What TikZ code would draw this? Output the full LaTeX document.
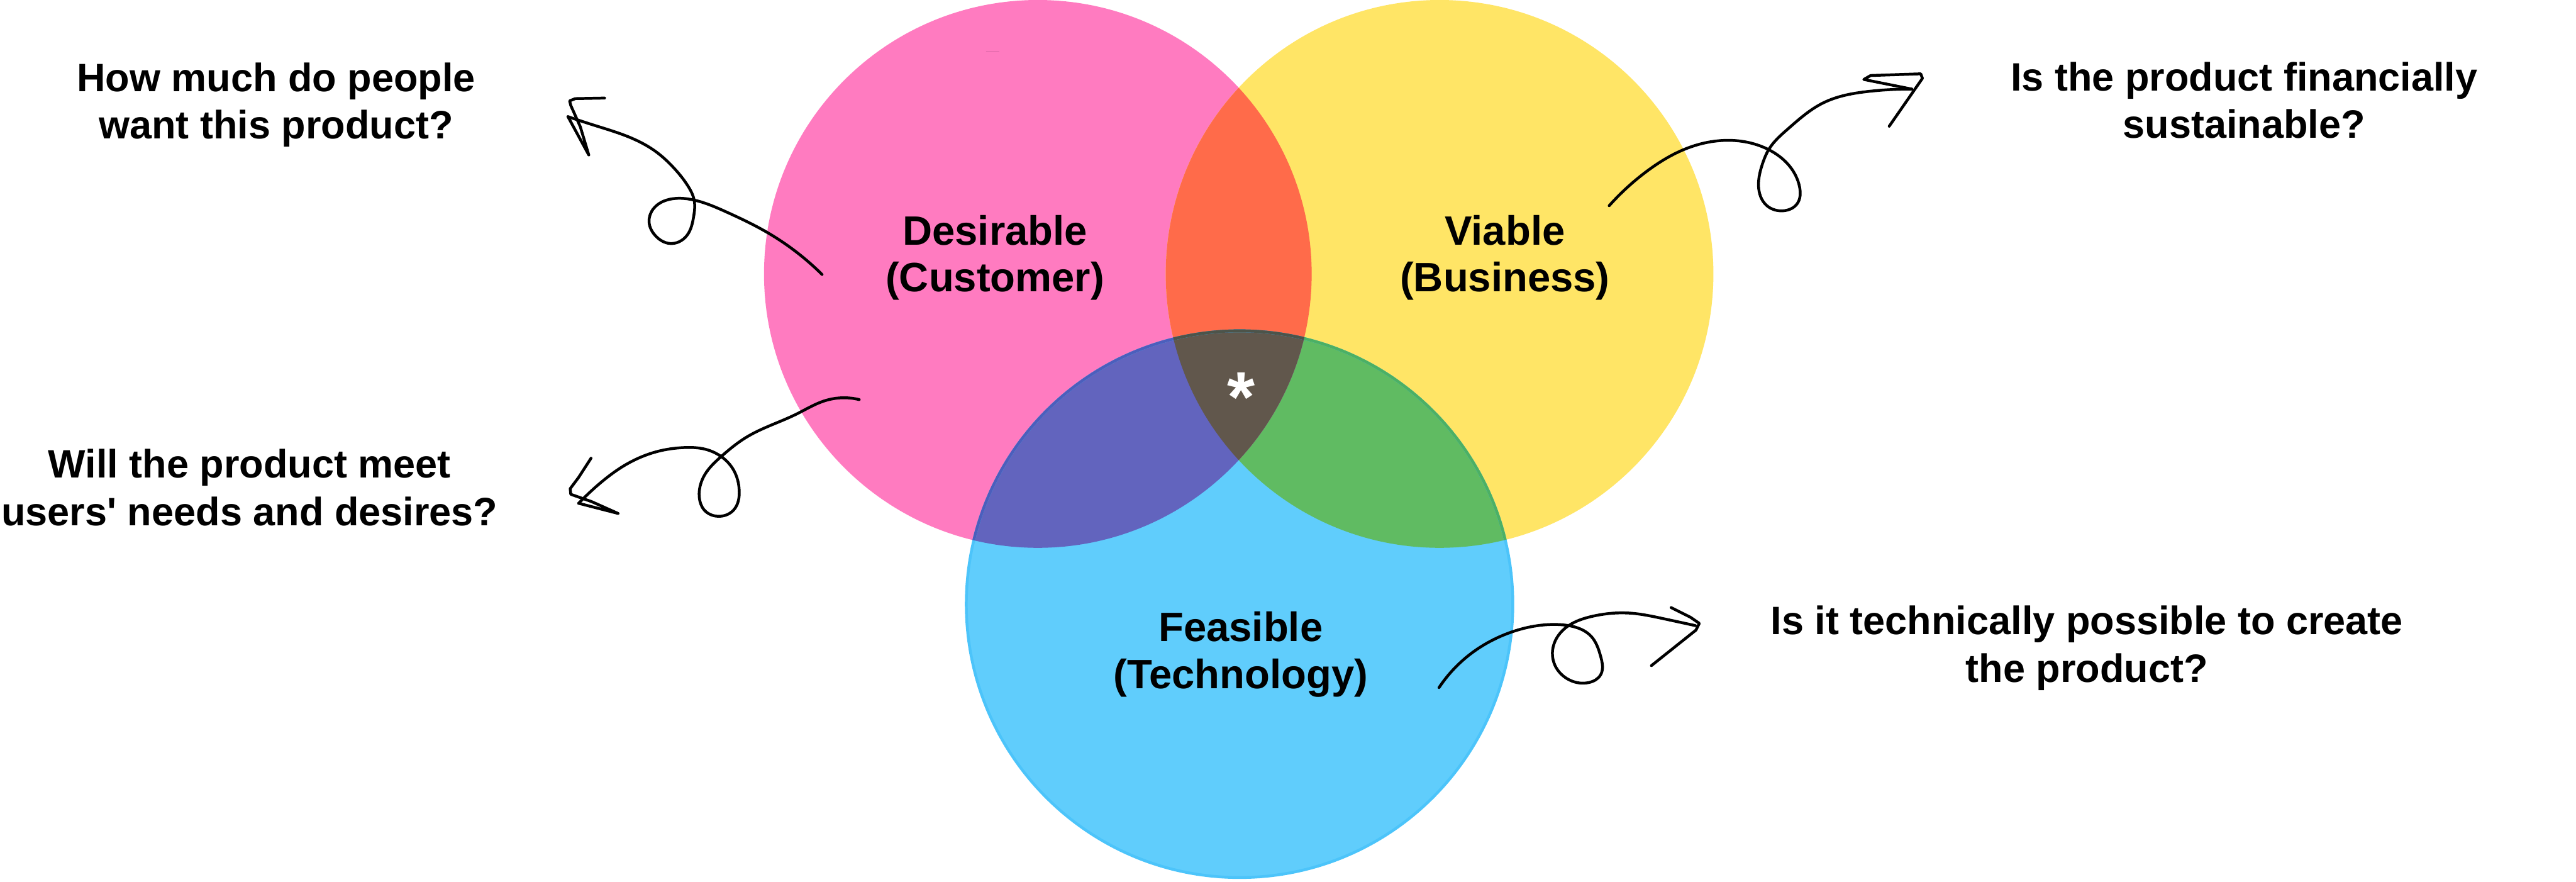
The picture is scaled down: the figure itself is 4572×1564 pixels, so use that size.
\documentclass[tikz,border=0pt]{standalone}
\usepackage{fontspec}
\setmainfont{Liberation Sans}[Ligatures=TeXOff]
\usetikzlibrary{hobby}
\definecolor{cPink}{RGB}{255,123,192}
\definecolor{cYellow}{RGB}{255,229,102}
\definecolor{cBlue}{RGB}{96,205,252}
\definecolor{cRed}{RGB}{255,107,74}
\definecolor{cPurple}{RGB}{98,100,190}
\definecolor{cGreen}{RGB}{96,187,98}
\definecolor{cBrown}{RGB}{97,87,76}
\definecolor{cRingB}{RGB}{76,196,250}
\definecolor{cRingG}{RGB}{76,176,100}
\definecolor{cRingP}{RGB}{76,94,188}
\definecolor{cRingBr}{RGB}{76,84,74}
\definecolor{cDash}{RGB}{222,104,168}
\tikzset{
  lbl/.style={font=\bfseries\fontsize{20.7}{23.6}\selectfont, align=center, inner sep=0pt, text=black},
  quest/.style={font=\bfseries\fontsize{20}{23.9}\selectfont, align=center, inner sep=0pt, text=black},
  scribble/.style={line width=0.05cm, line cap=round, line join=round, draw=black},
  ring/.style={line width=0.05cm}
}
\begin{document}
\begin{tikzpicture}[x=0.01cm,y=-0.01cm]
\useasboundingbox (0,0) rectangle (4572,1564);
\fill[white] (0,0) rectangle (4572,1564);
% circles
\fill[cPink] (1842,486) circle[radius=486];
\fill[cYellow] (2555,486) circle[radius=486];
\fill[cBlue] (2200,1072) circle[radius=485];
% yellow & blue
\begin{scope}
  \clip (2555,486) circle[radius=486];
  \fill[cGreen] (2200,1072) circle[radius=485];
\end{scope}
% pink overlaps
\begin{scope}
  \clip (1842,486) circle[radius=486];
  \fill[cRed] (2555,486) circle[radius=486];
  \fill[cPurple] (2200,1072) circle[radius=485];
  \clip (2555,486) circle[radius=486];
  \fill[cBrown] (2200,1072) circle[radius=485];
\end{scope}
% blue ring
\draw[ring, cRingB] (2200,1072) circle[radius=485];
\begin{scope}
  \clip (2555,486) circle[radius=486];
  \draw[ring, cRingG] (2200,1072) circle[radius=485];
\end{scope}
\begin{scope}
  \clip (1842,486) circle[radius=486];
  \draw[ring, cRingP] (2200,1072) circle[radius=485];
  \clip (2555,486) circle[radius=486];
  \draw[ring, cRingBr] (2200,1072) circle[radius=485];
\end{scope}
% tiny mark
\draw[cDash, line width=0.02cm] (1750,91) -- (1774,91);

% labels
\node[lbl] (lDes) at (1766,457) {Desirable\\(Customer)};
\node[lbl] (lVia) at (2671,457) {Viable\\(Business)};
\node[lbl] (lFea) at (2202,1161) {Feasible\\(Technology)};
\node[anchor=base, text=white, font=\bfseries\fontsize{36}{38}\selectfont, inner sep=0pt] (star) at (2203,748) {*};

% questions
\node[quest] (qDes) at (490,186) {How much do people\\want this product?};
\node[quest] (qUse) at (443,865) {Will the product meet\\users' needs and desires?};
\node[quest] (qVia) at (3983,178) {Is the product financially\\sustainable?};
\node[quest] (qFea) at (3704,1150) {Is it technically possible to create\\the product?};

% arrow end points
\coordinate (a1s) at (1459,487);
\coordinate (a1t) at (1008,207);
\coordinate (a2s) at (1525,709);
\coordinate (a2t) at (1027,893);
\coordinate (a3s) at (2856,365);
\coordinate (a3t) at (3393,158);
\coordinate (a4s) at (2554,1220);
\coordinate (a4t) at (3009,1110);

% arrow 1
\draw[scribble, use Hobby shortcut] (a1s) .. (1361,412) .. (1289,376) .. (1232,355) .. (1200,352) .. (1160,370) .. (1152,394) .. (1164,419) .. (1189,432) .. (1219,418) .. (1231,385) .. (1232,355) .. (1221,330) .. (1196,298) .. (1164,269) .. (1111,241) .. (1057,223) .. (a1t);
\draw[scribble] (a1t) -- (1045,275) -- (1030,225) -- (1013,187) -- (1011,179) -- (1021,175) -- (1073,174);
% arrow 2
\draw[scribble, use Hobby shortcut] (a2s) .. (1464,711) .. (1413,735) .. (1326,775) .. (1280,810) .. (1251,842) .. (1241,881) .. (1250,905) .. (1278,916) .. (1302,905) .. (1312,870) .. (1302,834) .. (1280,810) .. (1247,796) .. (1219,794) .. (1171,800) .. (1108,826) .. (1069,854) .. (1041,879) .. (a2t);
\draw[scribble] (a2t) -- (1097,911) -- (1050,890) -- (1013,877) -- (1012,867) -- (1027,847) -- (1049,813);
% arrow 3
\draw[scribble, use Hobby shortcut] (a3s) .. (2924,303) .. (2987,266) .. (3065,249) .. (3140,266) .. (3173,291) .. (3194,332) .. (3190,361) .. (3165,374) .. (3136,365) .. (3121,328) .. (3128,291) .. (3140,264) .. (3173,229) .. (3235,183) .. (3318,162) .. (a3t);
\draw[scribble] (a3t) -- (3308,141) -- (3320,134) -- (3409,131) -- (3412,139) -- (3353,224);
% arrow 4
\draw[scribble, use Hobby shortcut] (a4s) .. (2609,1161) .. (2681,1122) .. (2756,1108) .. (2784,1110) .. (2824,1129) .. (2841,1165) .. (2841,1197) .. (2820,1211) .. (2781,1204) .. (2758,1176) .. (2759,1140) .. (2784,1110) .. (2824,1094) .. (2895,1088) .. (2949,1097) .. (a4t);
\draw[scribble] (2966,1078) -- (3000,1095) -- (3016,1106) -- (3010,1118) -- (2931,1181);
\end{tikzpicture}
\end{document}
